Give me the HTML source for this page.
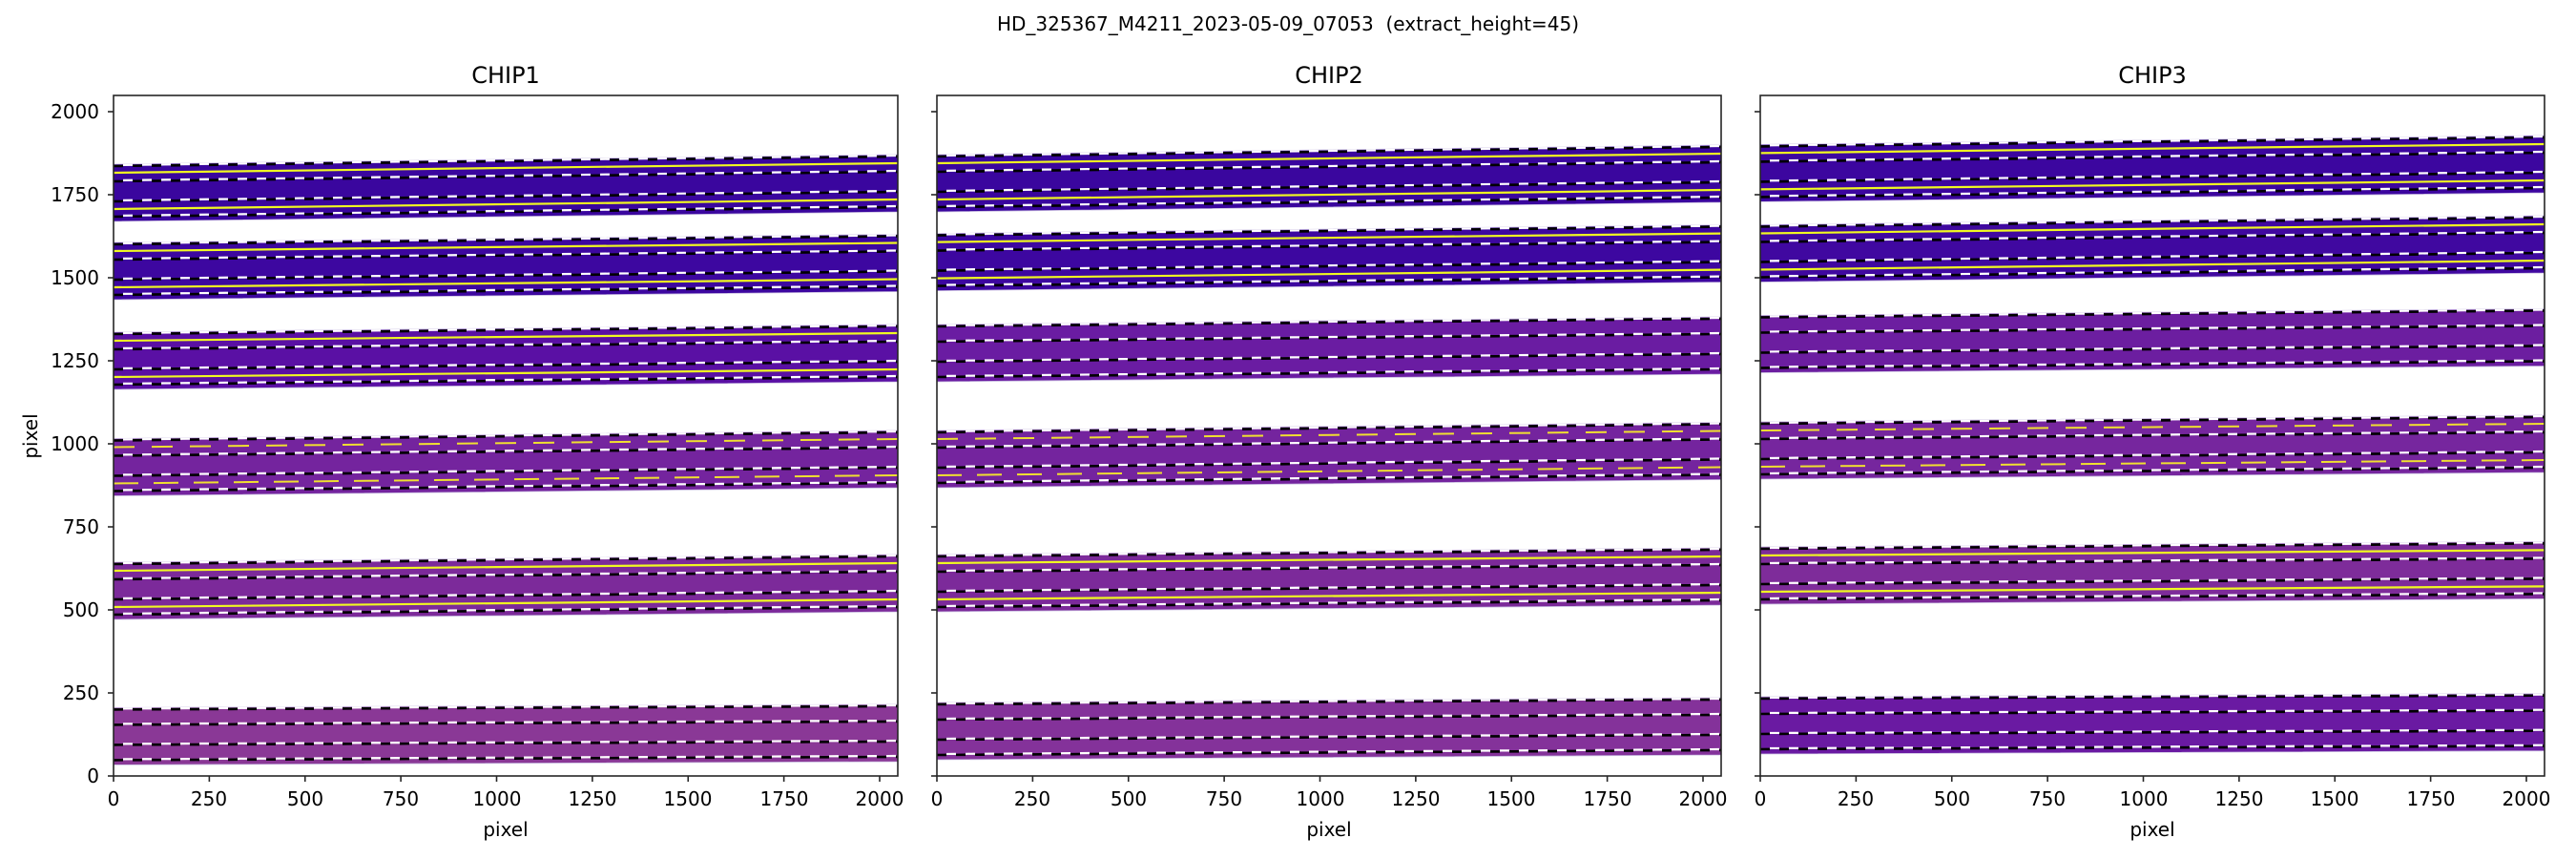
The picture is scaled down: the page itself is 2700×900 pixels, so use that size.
<!DOCTYPE html>
<html><head><meta charset="utf-8"><style>
html,body{margin:0;padding:0;background:#fff;}
svg{display:block;font-family:"DejaVu Sans","Liberation Sans",sans-serif;}
</style></head><body>
<svg id="s" width="2700" height="900" xmlns="http://www.w3.org/2000/svg">
<rect width="2700" height="900" fill="#fff"/>
<g id="data"></g>
<g id="axes" fill="none" stroke="#262626" stroke-width="1.6"></g>
<g font-size="20" fill="#000">
<text x="1350" y="32" text-anchor="middle" xml:space="preserve">HD_325367_M4211_2023-05-09_07053&#160; (extract_height=45)</text>
<text x="530" y="87" text-anchor="middle" font-size="24">CHIP1</text>
<text x="1393" y="87" text-anchor="middle" font-size="24">CHIP2</text>
<text x="2256" y="87" text-anchor="middle" font-size="24">CHIP3</text>
<text transform="translate(39,457) rotate(-90)" text-anchor="middle">pixel</text>
<text x="530" y="876" text-anchor="middle">pixel</text>
<text x="1393" y="876" text-anchor="middle">pixel</text>
<text x="2256" y="876" text-anchor="middle">pixel</text>
<g text-anchor="end">
<text x="104" y="820">0</text>
<text x="104" y="733">250</text>
<text x="104" y="646">500</text>
<text x="104" y="559">750</text>
<text x="104" y="472">1000</text>
<text x="104" y="385">1250</text>
<text x="104" y="298">1500</text>
<text x="104" y="211">1750</text>
<text x="104" y="124">2000</text>
</g>
<g text-anchor="middle">
<text x="119" y="844">0</text><text x="219" y="844">250</text><text x="320" y="844">500</text><text x="420" y="844">750</text><text x="521" y="844">1000</text><text x="621" y="844">1250</text><text x="721" y="844">1500</text><text x="822" y="844">1750</text><text x="922" y="844">2000</text>
<text x="982" y="844">0</text><text x="1082" y="844">250</text><text x="1183" y="844">500</text><text x="1283" y="844">750</text><text x="1384" y="844">1000</text><text x="1484" y="844">1250</text><text x="1584" y="844">1500</text><text x="1685" y="844">1750</text><text x="1785" y="844">2000</text>
<text x="1845" y="844">0</text><text x="1945" y="844">250</text><text x="2046" y="844">500</text><text x="2146" y="844">750</text><text x="2247" y="844">1000</text><text x="2347" y="844">1250</text><text x="2447" y="844">1500</text><text x="2548" y="844">1750</text><text x="2648" y="844">2000</text>
</g>
</g>
</svg>
<script>
(function(){
var NS="http://www.w3.org/2000/svg";
var data=document.getElementById("data"), axes=document.getElementById("axes");
function el(p,t,a){var e=document.createElementNS(NS,t);for(var k in a)e.setAttribute(k,a[k]);p.appendChild(e);return e;}
var lefts=[119,982,1845], W=822, TOP=100, BOT=813;
var panels=[
 [[172,-10,"#3a069e",1],[254,-8.5,"#3d07a0",1],[348,-8,"#5a10a4",1],[459.5,-8.5,"#74249e",2],[589,-8,"#7c2a9a",1],[741.4,-3.4,"#8a3896",0]],
 [[162,-10,"#3a069e",1],[244.6,-9,"#3d07a0",1],[340,-8,"#6a1ca2",0],[451,-8.5,"#74249e",2],[581,-7,"#7c2a9a",1],[736,-5,"#84329a",0]],
 [[151.4,-9.4,"#3c069f",1],[235.5,-9.5,"#4008a0",1],[330.5,-7,"#6c1ea0",0],[442,-7,"#76269e",2],[573,-5.6,"#7e2c9a",1],[730,-3.3,"#6a1aa2",0]]
];
panels.forEach(function(bands,pi){
 var L=lefts[pi], R=L+W;
 bands.forEach(function(b){
  var T=b[0], S=b[1], H=60;
  el(data,"polygon",{points:L+","+T+" "+R+","+(T+S)+" "+R+","+(T+S+H)+" "+L+","+(T+H),fill:b[2],stroke:"#c8bce0","stroke-width":"0.8"});
  function ln(off,attrs){var a={x1:L,y1:T+off,x2:R,y2:T+S+off};for(var k in attrs)a[k]=attrs[k];return el(data,"line",a);}
  if(b[3]==1){ln(9,{stroke:"#f0f921","stroke-width":"2.2"});ln(47,{stroke:"#f0f921","stroke-width":"2.2"});}
  if(b[3]==2){ln(9,{stroke:"#f0e030","stroke-width":"2","stroke-dasharray":"22 18"});ln(47,{stroke:"#f0e030","stroke-width":"2","stroke-dasharray":"26 16"});}
  [2,18,39,55].forEach(function(o){
   ln(o,{stroke:"#000","stroke-width":"2.6","stroke-dasharray":"10 10"});
   ln(o-1,{stroke:"#fff","stroke-width":"2.2","stroke-dasharray":"10 10","stroke-dashoffset":"10"});
  });
 });
 el(axes,"rect",{x:L,y:TOP,width:W,height:BOT-TOP});
 for(var v=0;v<=2000;v+=250){
  var x=L+v*0.4015; el(axes,"line",{x1:x,y1:BOT,x2:x,y2:BOT+6});
  var y=BOT-v*0.348; el(axes,"line",{x1:L,y1:y,x2:L-6,y2:y});
 }
});
})();
</script>
</body></html>
